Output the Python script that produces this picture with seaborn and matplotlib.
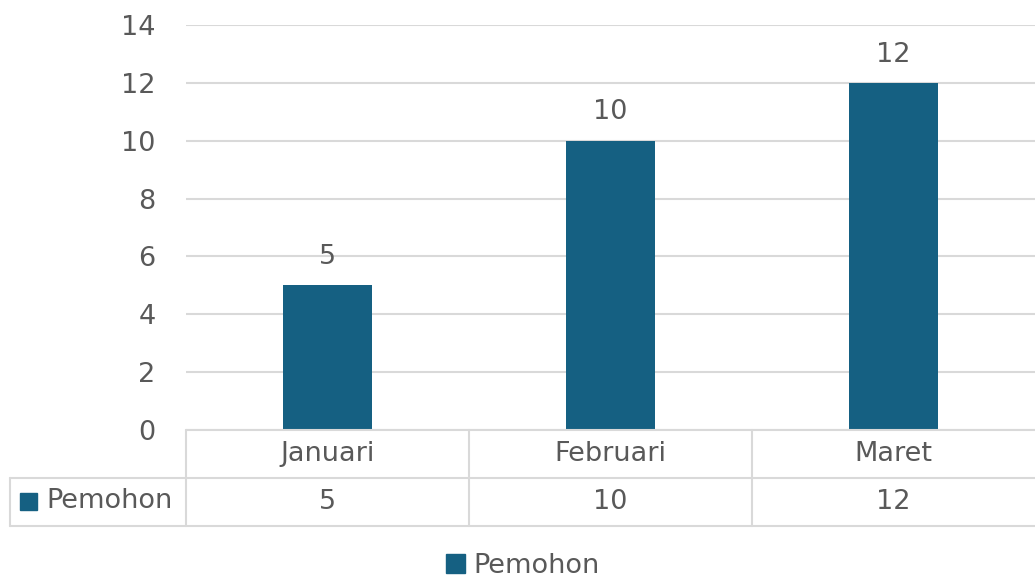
import matplotlib
matplotlib.use("Agg")
import matplotlib.pyplot as plt
import seaborn as sns
from matplotlib.lines import Line2D
from matplotlib.patches import Rectangle, Patch

categories = ["Januari", "Februari", "Maret"]
values = [5, 10, 12]
series_name = "Pemohon"
y_ticks = [0, 2, 4, 6, 8, 10, 12, 14]

BAR = "#156082"
TXT = "#595959"
GRID = "#d9d9d9"
W, H = 1035, 577
FS = 19.5

sns.set_theme(style="white")
plt.rcParams["font.family"] = ["DejaVu Sans"]

fig = plt.figure(figsize=(W / 100, H / 100), dpi=100)

def fx(px):
    return px / W

def fy(py):
    return 1 - py / H

ax = fig.add_axes([fx(186), fy(430), fx(1035) - fx(186), fy(25) - fy(430)])
sns.barplot(x=categories, y=values, color=BAR, width=0.315, saturation=1,
            linewidth=0, ax=ax)
ax.set_xlim(-0.5, 2.5)
ax.set_ylim(0, 14)
ax.set_yticks(y_ticks)
ax.set_yticklabels([str(t) for t in y_ticks], fontsize=FS, color=TXT)
ax.tick_params(axis="y", length=0, pad=22)
ax.set_xticks([])
ax.set_xlabel("")
ax.set_ylabel("")
for s in ax.spines.values():
    s.set_visible(False)
ax.yaxis.grid(True, color=GRID, linewidth=1.5)
ax.set_axisbelow(True)
ax.bar_label(ax.containers[0], labels=[str(v) for v in values], padding=11,
             fontsize=FS, color=TXT)

# data table
def hline(x0, x1, y):
    fig.add_artist(Line2D([fx(x0), fx(x1)], [fy(y), fy(y)], color=GRID, lw=1.5,
                          transform=fig.transFigure))

def vline(x, y0, y1):
    fig.add_artist(Line2D([fx(x), fx(x)], [fy(y0), fy(y1)], color=GRID, lw=1.5,
                          transform=fig.transFigure))

hline(186, 1035, 430)
hline(10, 1035, 478)
hline(10, 1035, 526)
vline(10, 478, 526)
col_w = (1035 - 186) / len(categories)
for i in range(len(categories)):
    vline(186 + i * col_w, 430, 526)

for i, (c, v) in enumerate(zip(categories, values)):
    xc = 186 + (i + 0.5) * col_w
    fig.text(fx(xc), fy(454), c, ha="center", va="center", fontsize=FS, color=TXT)
    fig.text(fx(xc), fy(502), str(v), ha="center", va="center", fontsize=FS, color=TXT)

fig.add_artist(Rectangle((fx(20), fy(510)), fx(17), fy(493) - fy(510), color=BAR,
                         transform=fig.transFigure))
fig.text(fx(46), fy(501), series_name, ha="left", va="center", fontsize=FS, color=TXT)

# legend
fig.legend(handles=[Patch(color=BAR, label=series_name)], loc="center",
           bbox_to_anchor=(fx(523), fy(566)), frameon=False, fontsize=FS,
           labelcolor=TXT, handlelength=0.7, handleheight=0.7, handletextpad=0.3)

fig.savefig("out.png", dpi=100)
